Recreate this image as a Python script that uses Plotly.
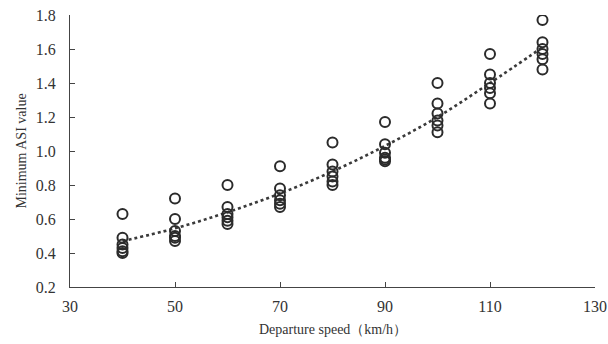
import plotly.graph_objects as go

speeds = [40, 50, 60, 70, 80, 90, 100, 110, 120]
asi_values = [
    [0.63, 0.49, 0.45, 0.43, 0.41, 0.40],
    [0.72, 0.60, 0.53, 0.50, 0.49, 0.47],
    [0.80, 0.67, 0.63, 0.61, 0.59, 0.57],
    [0.91, 0.78, 0.74, 0.71, 0.69, 0.67],
    [1.05, 0.92, 0.88, 0.85, 0.82, 0.80],
    [1.17, 1.04, 0.99, 0.96, 0.95, 0.94],
    [1.40, 1.28, 1.22, 1.18, 1.15, 1.11],
    [1.57, 1.45, 1.40, 1.37, 1.34, 1.28],
    [1.77, 1.64, 1.60, 1.57, 1.54, 1.48],
]
trend_values = [0.47, 0.545, 0.64, 0.75, 0.88, 1.03, 1.20, 1.40, 1.61]
x_ticks = [30, 50, 70, 90, 110, 130]
y_ticks = [0.2, 0.4, 0.6, 0.8, 1.0, 1.2, 1.4, 1.6, 1.8]

xs, ys = [], []
for s, vals in zip(speeds, asi_values):
    for v in vals:
        xs.append(s)
        ys.append(v)

fig = go.Figure()
fig.add_trace(go.Scatter(
    x=speeds, y=trend_values, mode="lines",
    line=dict(color="#3a3a3a", width=2.6, dash="dot", shape="spline"),
    showlegend=False, hoverinfo="skip"))
fig.add_trace(go.Scatter(
    x=xs, y=ys, mode="markers",
    marker=dict(symbol="circle-open", size=10, color="#2b2b2b",
                line=dict(width=2, color="#2b2b2b")),
    showlegend=False))

font_serif = "Liberation Serif, Times New Roman, serif"
fig.update_layout(
    width=608, height=344,
    margin=dict(l=69.5, r=13, t=15, b=56.5, autoexpand=False),
    paper_bgcolor="white", plot_bgcolor="white",
    font=dict(family=font_serif, color="#333333"),
    xaxis=dict(range=[30, 130], tickvals=x_ticks, ticktext=[str(v) for v in x_ticks],
               showgrid=False, zeroline=False, showline=True, linecolor="#444444",
               linewidth=1, ticks="inside", ticklen=5, tickcolor="#444444",
               tickfont=dict(size=16, family=font_serif, color="#333333"),
               ticklabelstandoff=5, automargin=False),
    yaxis=dict(range=[0.2, 1.8], tickvals=y_ticks, ticktext=[f"{v:.1f}" for v in y_ticks],
               showgrid=False, zeroline=False, showline=True, linecolor="#444444",
               linewidth=1, ticks="inside", ticklen=5, tickcolor="#444444",
               tickfont=dict(size=16, family=font_serif, color="#333333"),
               ticklabelstandoff=10, automargin=False),
    annotations=[
        dict(text="Departure speed（km/h）", xref="paper", yref="paper",
             x=0.5, y=0, yshift=-42, xanchor="center", yanchor="middle",
             showarrow=False, font=dict(size=14, family=font_serif, color="#333333")),
        dict(text="Minimum ASI value", xref="paper", yref="paper",
             x=0, y=0.5, xshift=-49.5, xanchor="center", yanchor="middle",
             textangle=-90, showarrow=False,
             font=dict(size=14, family=font_serif, color="#333333")),
    ],
)

fig.write_html("out.html")
